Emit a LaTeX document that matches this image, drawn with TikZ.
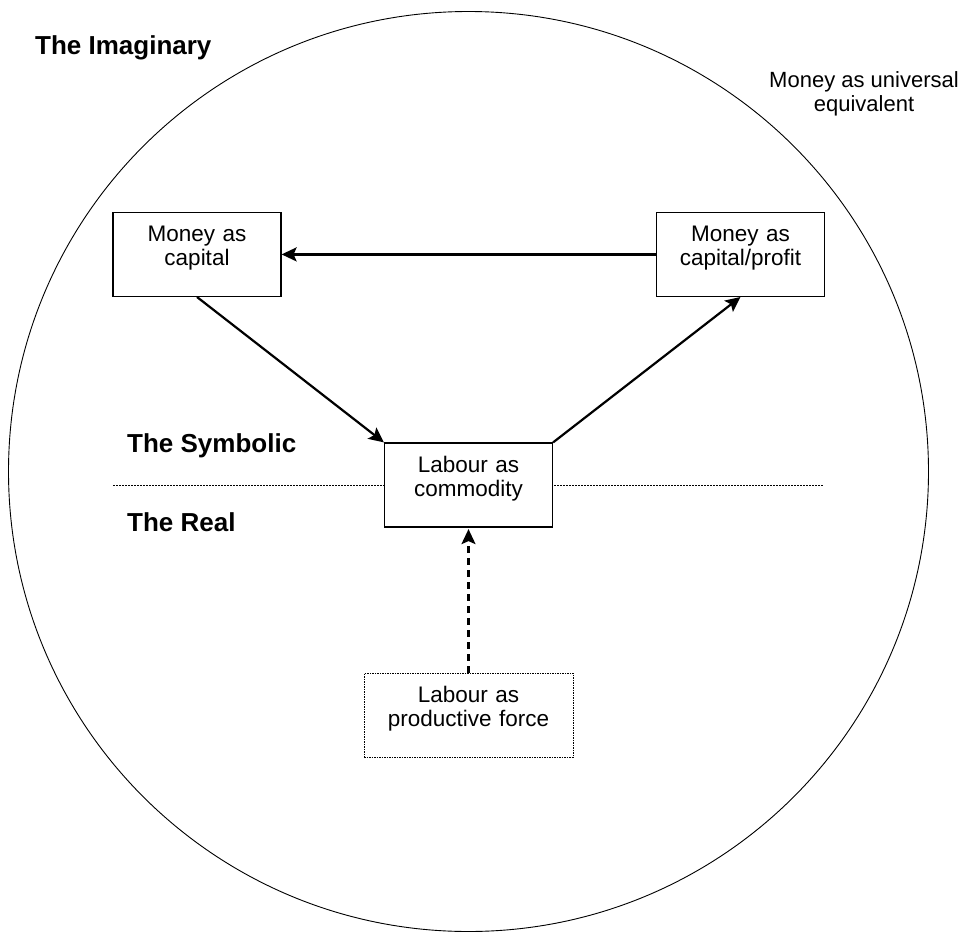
\documentclass[tikz,border=0pt]{standalone}
\usepackage{fontspec}
\setmainfont{Liberation Sans}
\usetikzlibrary{arrows.meta}
\usetikzlibrary{shapes}
\tikzstyle{level} = [font=\fontsize{26}{30}\selectfont\bfseries, anchor=base west, inner sep=0pt]
\tikzstyle{form} = [rectangle, draw=black, fill=white, line width=1.2pt, text width=160pt, inner xsep=4pt, inner ysep=0pt, minimum width=168pt, minimum height=84pt, text centered, font=\fontsize{22.5}{24.3}\selectfont, execute at end node={\endgraf\kern13pt}]
\tikzstyle{note} = [align=center, font=\fontsize{22}{24.3}\selectfont, inner sep=0pt]
\tikzstyle{arrow} = [line width=2.2pt,->,>={Stealth[length=15pt,width=14pt,inset=3pt]}]

\begin{document}
\begin{tikzpicture}[x=1pt, y=-1pt]
\useasboundingbox (0,0) rectangle (959,932);

\node [circle, draw, line width=0.9pt, minimum size=920pt, inner sep=0pt] (imaginary) at (468.5,471.5) {};
\node [level] (imag_label) at (35,54) {The Imaginary};
\node [level] (symb_label) at (127,452) {The Symbolic};
\node [level] (real_label) at (127,531) {The Real};
\node [note] (universal) at (864,94) {Money as universal\\equivalent};

\coordinate (div_left) at (113,485);
\coordinate (div_right) at (823,485);
\draw [line width=1pt, dash pattern=on 2pt off 1pt] (div_left) -- (div_right);

\node [form] (capital) at (197,254.4) {Money as\\capital};
\node [form] (profit) at (740.5,254.4) {Money as\\capital/profit};
\node [form] (commodity) at (468.5,485) {Labour as\\commodity};
\node [form, text width=200pt, inner xsep=4.5pt, minimum width=209pt, line width=1pt, dash pattern=on 1.5pt off 1pt] (force) at (468.5,715) {Labour as\\productive force};

\draw [arrow] (profit) -- (capital);
\draw [arrow] (capital.south) -- (commodity.north west);
\draw [arrow] (commodity.north east) -- (profit.south);
\draw [arrow, dash pattern=on 7pt off 5pt, shorten >=1.5pt] (force.north) -- (commodity.south);

\end{tikzpicture}
\end{document}
